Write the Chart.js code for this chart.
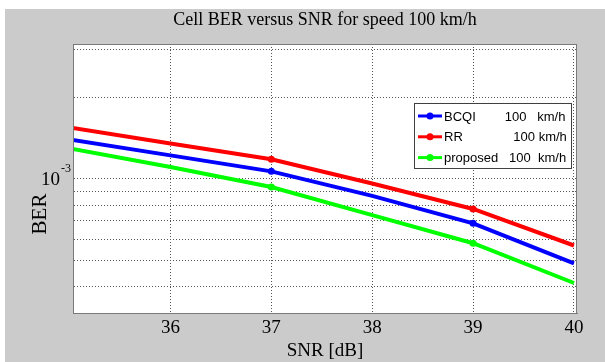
<!DOCTYPE html>
<html>
<head>
<meta charset="utf-8">
<script src="https://cdn.jsdelivr.net/npm/chart.js@4.4.1/dist/chart.umd.min.js"></script>
<style>
  html, body { margin: 0; padding: 0; background: #fff; }
  #wrap { width: 605px; height: 362px; }
</style>
</head>
<body>
<div id="wrap"><canvas id="myChart" width="605" height="362"></canvas></div>
<script>
// values (log scale BER vs SNR)
const snr = [35, 36, 37, 38, 39, 40];
const berBCQI = [1.40e-3, 1.222e-3, 1.067e-3, 8.66e-4, 6.86e-4, 4.88e-4];
const berRR = [1.55e-3, 1.353e-3, 1.182e-3, 9.62e-4, 7.75e-4, 5.68e-4];
const berProposed = [1.297e-3, 1.107e-3, 9.34e-4, 7.35e-4, 5.79e-4, 4.13e-4];
const seriesLabels = ["BCQI        100   km/h", "RR              100 km/h", "proposed   100  km/h"];
const xTicks = [36, 37, 38, 39, 40];
const yTicks = [4e-4, 5e-4, 6e-4, 7e-4, 8e-4, 9e-4, 1e-3, 2e-3, 3e-3];
const yLabelTick = 1e-3;
const markedSnr = [37, 39];

const toPoints = (ys) => snr.map((x, i) => ({ x: x, y: ys[i] }));

// gray figure background + white axes box
const background = {
  id: "background",
  beforeDraw(chart) {
    const ctx = chart.ctx;
    const a = chart.chartArea;
    ctx.save();
    ctx.fillStyle = "#ffffff";
    ctx.fillRect(0, 0, chart.width, chart.height);
    ctx.fillStyle = "#cbcbcb";
    ctx.fillRect(5, 9, chart.width - 5, chart.height - 9);
    ctx.fillStyle = "#ffffff";
    ctx.fillRect(a.left, a.top, a.right - a.left, a.bottom - a.top);
    ctx.restore();
  },
  afterDraw(chart) {
    const ctx = chart.ctx;
    const a = chart.chartArea;
    const y = chart.scales.y;
    ctx.save();
    // box round the axes
    ctx.strokeStyle = "#7a7a7a";
    ctx.lineWidth = 1;
    ctx.strokeRect(a.left + 0.5, a.top + 0.5, a.right - a.left - 1, a.bottom - a.top);

    // y label and the 10^-3 tick label
    ctx.fillStyle = "#000";
    ctx.save();
    ctx.translate(40, 214);
    ctx.rotate(-Math.PI / 2);
    ctx.font = "21px 'Liberation Serif'";
    ctx.textAlign = "center";
    ctx.textBaseline = "middle";
    ctx.fillText("BER", 0, 0);
    ctx.restore();

    const py = y.getPixelForValue(yLabelTick);
    ctx.font = "19px 'Liberation Serif'";
    ctx.textAlign = "right";
    ctx.textBaseline = "middle";
    ctx.fillText("10", 60, py + 1);
    ctx.font = "12px 'Liberation Serif'";
    ctx.textAlign = "left";
    ctx.fillText("-3", 61, py - 10);

    // legend box
    const bx = a.right - 163, by = a.top + 59, bw = 157, bh = 65;
    ctx.fillStyle = "#ffffff";
    ctx.fillRect(bx, by, bw, bh);
    ctx.strokeStyle = "#404040";
    ctx.strokeRect(bx + 0.5, by + 0.5, bw, bh);
    chart.data.datasets.forEach((ds, i) => {
      const ly = by + 13 + i * 20.8;
      ctx.strokeStyle = ds.borderColor;
      ctx.fillStyle = ds.borderColor;
      ctx.lineWidth = 3;
      ctx.beginPath();
      ctx.moveTo(bx + 4, ly);
      ctx.lineTo(bx + 28, ly);
      ctx.stroke();
      ctx.beginPath();
      ctx.arc(bx + 16, ly, 3.5, 0, Math.PI * 2);
      ctx.fill();
      ctx.fillStyle = "#000";
      ctx.font = "13px 'Liberation Sans'";
      ctx.textAlign = "left";
      ctx.textBaseline = "middle";
      ctx.fillText(ds.label, bx + 30, ly + 1);
    });
    ctx.restore();
  }
};

const ctx = document.getElementById("myChart").getContext("2d");
const chart = new Chart(ctx, {
  type: "line",
  data: {
    datasets: [
      { label: seriesLabels[0], data: toPoints(berBCQI), borderColor: "#0000ff", backgroundColor: "#0000ff" },
      { label: seriesLabels[1], data: toPoints(berRR), borderColor: "#ff0000", backgroundColor: "#ff0000" },
      { label: seriesLabels[2], data: toPoints(berProposed), borderColor: "#00ff00", backgroundColor: "#00ff00" },
    ],
  },
  options: {
    responsive: false,
    animation: false,
    devicePixelRatio: 1,
    clip: 0,
    layout: { padding: { left: 0, right: 28, top: 0, bottom: 0 } },
    elements: {
      line: { borderWidth: 4, tension: 0 },
      point: {
        radius: (c) => (c.raw && markedSnr.includes(c.raw.x) ? 3.5 : 0),
        borderWidth: 0,
        hoverRadius: 0,
      },
    },
    plugins: {
      legend: { display: false },
      tooltip: { enabled: false },
      title: {
        display: true,
        fullSize: false,
        text: "Cell BER versus SNR for speed 100 km/h",
        color: "#000",
        font: { family: "'Liberation Serif'", size: 18, weight: "normal" },
        padding: { top: 9, bottom: 13.4 },
      },
    },
    scales: {
      x: {
        type: "linear",
        bounds: "data",
        min: 35.034,
        max: 40.03,
        afterBuildTicks: (s) => { s.ticks = xTicks.map((v) => ({ value: v })); },
        afterFit: (s) => { s.height = 49; },
        grid: { color: "#555", drawTicks: false },
        border: { display: true, color: "#7a7a7a", dash: [1, 2] },
        ticks: {
          color: "#000",
          padding: 4,
          maxRotation: 0,
          font: { family: "'Liberation Serif'", size: 19 },
        },
        title: {
          display: true,
          text: "SNR [dB]",
          color: "#000",
          font: { family: "'Liberation Serif'", size: 19 },
          padding: { top: 0, bottom: 0 },
        },
      },
      y: {
        type: "logarithmic",
        bounds: "data",
        min: 3.2e-4,
        max: 3.15e-3,
        afterBuildTicks: (s) => { s.ticks = yTicks.map((v) => ({ value: v })); },
        afterFit: (s) => { s.width = 73; },
        grid: { color: "#555", drawTicks: false },
        border: { display: true, color: "#7a7a7a", dash: [1, 2] },
        ticks: { display: false },
      },
    },
  },
  plugins: [background],
});
</script>
</body>
</html>
